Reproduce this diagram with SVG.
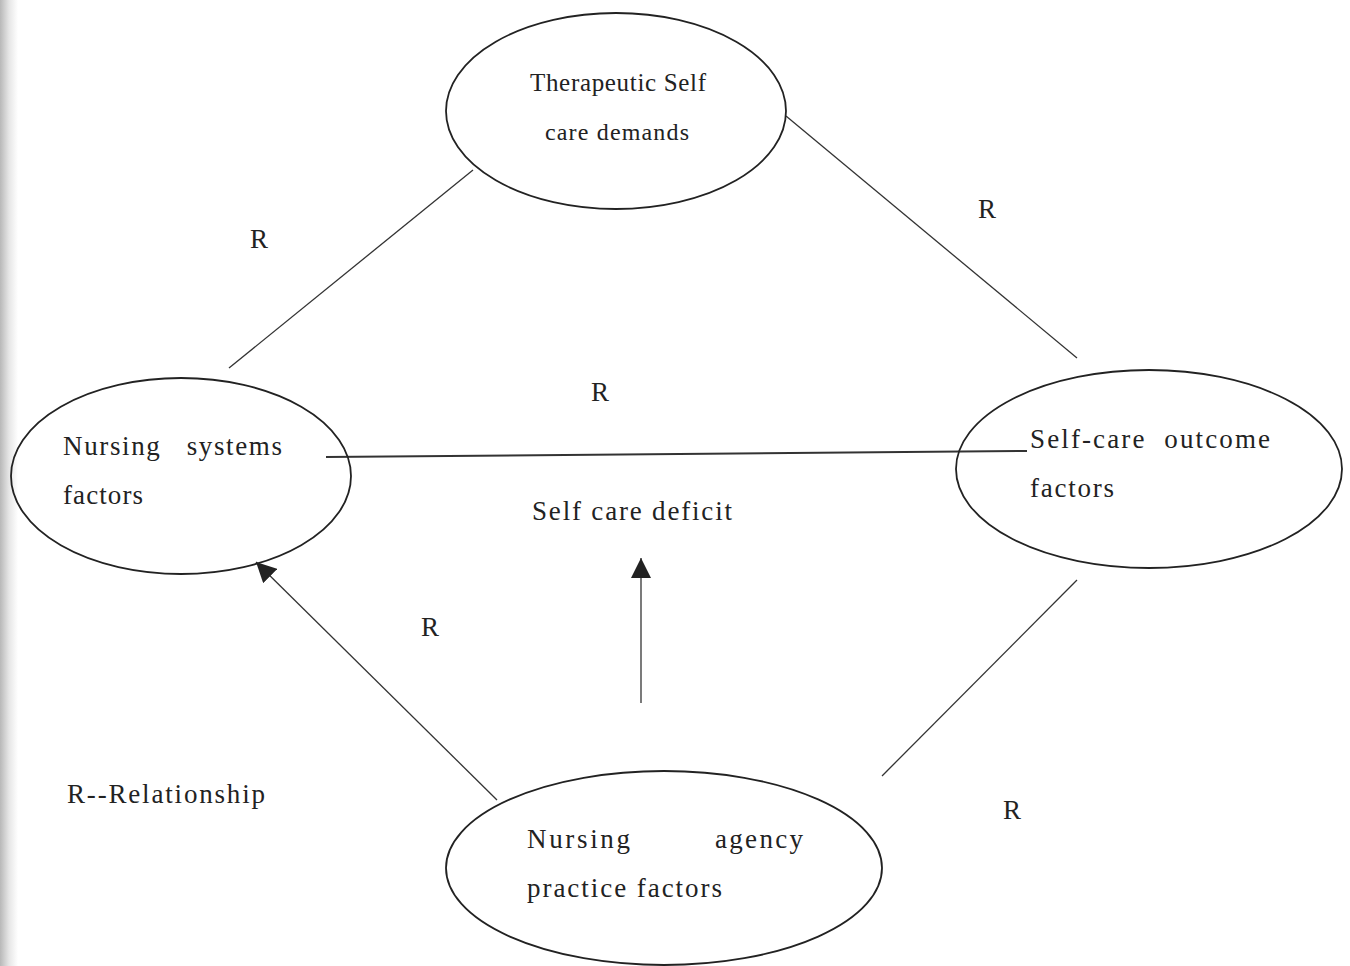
<svg xmlns="http://www.w3.org/2000/svg" width="1350" height="966" viewBox="0 0 1350 966">
<style>
.node{fill:none;stroke:#222;stroke-width:1.8}
.ln{stroke:#333;stroke-width:1.3;fill:none}
.t{font-family:"Liberation Serif","Times New Roman",serif;fill:#222}
.lbl{font-size:27px}
.r{font-size:27px;text-anchor:middle}
</style>
<defs>
<linearGradient id="edge" x1="0" x2="1" y1="0" y2="0">
<stop offset="0" stop-color="#b8b8b8"/>
<stop offset="0.5" stop-color="#e6e6e6"/>
<stop offset="1" stop-color="#ffffff"/>
</linearGradient>
<marker id="ah" viewBox="0 0 10 10" refX="10" refY="5" markerWidth="20" markerHeight="20" markerUnits="userSpaceOnUse" orient="auto">
<path d="M0,0 L10,5 L0,10 z" fill="#222"/>
</marker>
</defs>
<rect width="1350" height="966" fill="#fff"/>
<rect width="18" height="966" fill="url(#edge)"/>
<g id="connectors">
<line class="ln" x1="229" y1="368" x2="473" y2="170"/>
<line class="ln" x1="786" y1="116" x2="1077" y2="358"/>
<line class="ln" x1="326" y1="457" x2="1027" y2="451" style="stroke-width:2"/>
<line class="ln" x1="882" y1="776" x2="1077" y2="580"/>
<line class="ln" x1="497" y1="800" x2="256" y2="562" marker-end="url(#ah)"/>
<line class="ln" x1="641" y1="703" x2="641" y2="558" marker-end="url(#ah)"/>
</g>
<g id="node-therapeutic">
<ellipse class="node" cx="616" cy="111" rx="170" ry="98"/>
<text class="t" x="530" y="91" font-size="25" textLength="176" lengthAdjust="spacing">Therapeutic Self</text>
<text class="t" x="545" y="140" font-size="24" textLength="144" lengthAdjust="spacing">care demands</text>
</g>
<g id="node-nursing-systems">
<ellipse class="node" cx="181" cy="476" rx="170" ry="98"/>
<text class="t lbl" x="63" y="455" xml:space="preserve" textLength="219" lengthAdjust="spacing">Nursing   systems</text>
<text class="t lbl" x="63" y="504" textLength="80" lengthAdjust="spacing">factors</text>
</g>
<g id="node-self-care-outcome">
<ellipse class="node" cx="1149" cy="469" rx="193" ry="99"/>
<text class="t lbl" x="1030" y="448" xml:space="preserve" textLength="240" lengthAdjust="spacing">Self-care  outcome</text>
<text class="t lbl" x="1030" y="497" textLength="84" lengthAdjust="spacing">factors</text>
</g>
<g id="node-nursing-agency">
<ellipse class="node" cx="664" cy="868" rx="218" ry="97"/>
<text class="t lbl" x="527" y="848" textLength="103" lengthAdjust="spacing">Nursing</text>
<text class="t lbl" x="715" y="848" textLength="88" lengthAdjust="spacing">agency</text>
<text class="t lbl" x="527" y="897" textLength="195" lengthAdjust="spacing">practice factors</text>
</g>
<g id="node-self-care-deficit">
<text class="t lbl" x="532" y="520" textLength="200" lengthAdjust="spacing">Self care deficit</text>
</g>
<g id="labels">
<text class="t r" x="259" y="248">R</text>
<text class="t r" x="987" y="218">R</text>
<text class="t r" x="600" y="401">R</text>
<text class="t r" x="430" y="636">R</text>
<text class="t r" x="1012" y="819">R</text>
<text class="t lbl" x="67" y="803" textLength="198" lengthAdjust="spacing">R--Relationship</text>
</g>
</svg>
